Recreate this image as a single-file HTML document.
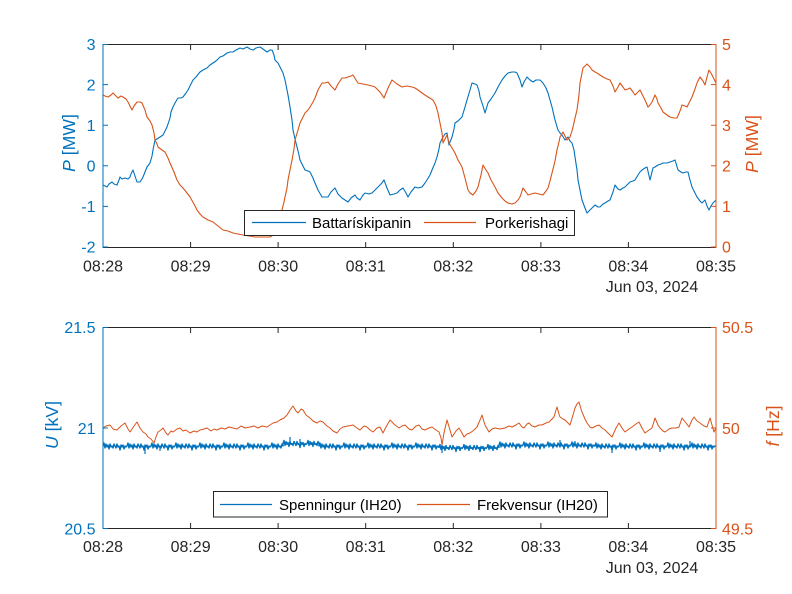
<!DOCTYPE html>
<html>
<head>
<meta charset="utf-8">
<style>
  html,body{margin:0;padding:0;background:#fff;}
  svg{display:block;}
  text{font-family:"Liberation Sans",Arial,sans-serif;}
</style>
</head>
<body>
<svg width="792" height="594" viewBox="0 0 792 594" xmlns="http://www.w3.org/2000/svg">
<rect x="0" y="0" width="792" height="594" fill="#fff"/>
<defs>
  <clipPath id="c1"><rect x="103" y="44" width="613" height="203"/></clipPath>
  <clipPath id="c2"><rect x="103" y="327" width="613" height="202"/></clipPath>
</defs>

<!-- ================= TOP AXES ================= -->
<g clip-path="url(#c1)" fill="none" stroke-width="1.1" stroke-linejoin="round">
  <polyline stroke="#0072BD" points="103,185 105,186 107,187 109,184 112,182 114,184 117,185 119,180 120,177 122,179 125,178 128,179 130,177 131,174 133,170 135,176 137,182 140,182 142,179 143,177 145,172 147,167 150,163 152,156 153,150 155,140 157,139 160,137 163,135 165,131 167,127 170,118 171,112 173,107 175,103 178,98 181,98 183,97 186,93 188,90 190,86 193,80 196,77 200,72 203,70 207,68 210,65 213,63 216,61 220,57 223,56 227,53 230,52 233,52 236,50 240,48 243,49 247,47 250,49 253,50 256,48 260,47 263,49 267,52 270,50 272,50 274,55 275,60 278,63 280,67 283,73 285,80 288,95 290,107 292,120 293,130 295,139 297,147 299,155 300,160 303,166 305,170 308,171 310,172 313,178 315,183 318,190 322,197 325,197 328,197 331,192 335,188 338,194 342,198 345,200 348,202 351,198 355,195 357,198 360,200 363,195 365,193 369,194 372,193 375,190 378,187 381,184 384,180 387,188 390,195 394,194 397,193 400,190 403,188 406,193 408,197 411,192 415,187 418,188 422,187 425,183 427,180 430,175 432,170 435,163 437,157 439,149 440,143 443,137 445,134 447,133 449,145 450,142 452,137 454,129 455,123 458,121 462,117 465,107 467,100 470,90 472,83 475,84 477,85 479,91 480,97 483,106 485,113 488,103 491,99 495,93 498,87 502,80 505,76 508,73 512,72 515,72 517,73 520,80 522,87 524,82 527,77 530,80 533,82 536,80 540,80 543,83 546,88 548,93 550,100 552,107 555,120 558,130 560,133 562,135 565,140 568,137 570,141 572,143 574,150 575,157 577,170 578,180 580,190 582,200 585,208 587,213 590,210 593,207 595,205 598,207 600,207 603,204 605,203 608,201 610,200 613,192 615,185 618,189 620,190 623,188 625,187 628,184 630,182 633,181 635,180 638,175 640,172 642,170 645,168 647,167 650,180 653,168 655,167 658,165 661,164 663,163 667,163 670,162 673,161 675,160 678,170 681,172 683,173 686,172 688,172 690,180 692,187 695,193 697,197 700,201 702,203 705,200 707,206 709,210 711,206 713,203 716,200"/>
  <polyline stroke="#D95319" points="103,95 105,96 108,97 111,95 113,93 116,96 118,98 121,96 123,97 126,99 128,102 130,106 132,110 134,106 137,102 140,102 142,103 145,110 147,117 150,121 152,125 154,133 155,140 157,144 158,147 162,150 165,152 168,158 170,163 174,172 177,180 180,185 183,188 187,193 190,197 194,204 197,210 200,214 203,217 208,220 213,222 218,226 223,230 228,231 233,233 238,234 243,235 255,237 270,237 278,232 282,210 284,202 285,197 287,188 288,180 290,170 292,160 294,149 295,140 298,130 300,123 303,117 305,113 308,110 310,107 313,102 315,98 318,90 322,83 325,83 328,82 331,86 335,90 338,84 342,78 345,78 348,77 351,76 353,75 356,80 358,83 363,84 368,85 372,86 375,87 380,92 384,98 388,88 392,80 397,84 402,87 407,86 412,87 415,88 418,90 422,93 425,95 428,97 433,100 436,106 438,113 440,123 442,133 443,143 445,139 447,135 449,143 452,148 455,153 458,160 462,167 465,178 468,190 470,193 473,195 476,191 478,187 481,175 483,165 486,170 488,173 491,180 495,187 498,193 502,198 505,201 508,203 512,204 515,203 518,200 520,197 523,188 526,192 528,195 531,194 535,193 539,194 543,195 546,191 548,188 550,181 552,173 555,161 557,150 559,142 560,137 563,132 565,136 567,140 570,137 572,131 573,127 575,118 577,110 579,95 580,83 582,73 583,68 585,66 587,64 590,67 592,70 595,72 597,73 600,75 603,77 607,79 610,80 613,86 615,92 618,87 620,83 623,87 625,90 628,89 630,88 633,92 635,95 638,92 640,90 643,96 645,100 648,107 650,105 652,102 655,95 657,99 658,103 661,108 663,112 667,115 670,117 674,118 677,118 680,111 682,105 685,106 687,107 690,101 692,97 695,89 697,83 700,77 703,81 705,85 707,77 709,70 711,73 713,77 716,83"/>
</g>

<!-- top axes frame -->
<g stroke-width="1" fill="none">
  <line x1="103" y1="44.5" x2="716" y2="44.5" stroke="#262626"/>
  <line x1="103" y1="247.5" x2="716" y2="247.5" stroke="#262626"/>
  <line x1="103" y1="44" x2="103" y2="248" stroke="#0072BD"/>
  <line x1="716" y1="44" x2="716" y2="248" stroke="#D95319"/>
  <g stroke="#262626">
    <path d="M190.6,247 v-5 M278.1,247 v-5 M365.7,247 v-5 M453.3,247 v-5 M540.9,247 v-5 M628.4,247 v-5"/>
    <path d="M190.6,45 v5 M278.1,45 v5 M365.7,45 v5 M453.3,45 v5 M540.9,45 v5 M628.4,45 v5"/>
  </g>
  <path stroke="#0072BD" d="M103,44.5 h5 M103,84.6 h5 M103,125.2 h5 M103,165.8 h5 M103,206.4 h5 M103,247 h5"/>
  <path stroke="#D95319" d="M716,44.5 h-5 M716,84.6 h-5 M716,125.2 h-5 M716,165.8 h-5 M716,206.4 h-5 M716,247 h-5"/>
</g>

<g font-size="16" fill="#0072BD" text-anchor="end">
  <text x="95.5" y="50">3</text>
  <text x="95.5" y="90.5">2</text>
  <text x="95.5" y="131">1</text>
  <text x="95.5" y="171.5">0</text>
  <text x="95.5" y="212">-1</text>
  <text x="95.5" y="252.5">-2</text>
</g>
<g font-size="16" fill="#D95319" text-anchor="start">
  <text x="722" y="50">5</text>
  <text x="722" y="90.5">4</text>
  <text x="722" y="131">3</text>
  <text x="722" y="171.5">2</text>
  <text x="722" y="212">1</text>
  <text x="722" y="252.5">0</text>
</g>
<g font-size="16" fill="#262626" text-anchor="middle">
  <text x="103" y="271.5">08:28</text>
  <text x="190.6" y="271.5">08:29</text>
  <text x="278.1" y="271.5">08:30</text>
  <text x="365.7" y="271.5">08:31</text>
  <text x="453.3" y="271.5">08:32</text>
  <text x="540.9" y="271.5">08:33</text>
  <text x="628.4" y="271.5">08:34</text>
  <text x="716" y="271.5">08:35</text>
  <text x="652" y="292">Jun 03, 2024</text>
</g>
<text font-size="17.6" fill="#0072BD" text-anchor="middle" transform="translate(75,143) rotate(-90)"><tspan font-style="italic">P</tspan> [MW]</text>
<text font-size="17.6" fill="#D95319" text-anchor="middle" transform="translate(758,144) rotate(-90)"><tspan font-style="italic">P</tspan> [MW]</text>

<rect x="244.5" y="210.5" width="330" height="25" fill="#fff" stroke="#262626" stroke-width="1"/>
<line x1="252" y1="222.5" x2="306" y2="222.5" stroke="#0072BD" stroke-width="1.2"/>
<text x="312" y="228" font-size="15" fill="#000">Battarískipanin</text>
<line x1="424" y1="222.5" x2="476" y2="222.5" stroke="#D95319" stroke-width="1.2"/>
<text x="485" y="228" font-size="15" fill="#000">Porkerishagi</text>

<!-- ================= BOTTOM AXES ================= -->
<g clip-path="url(#c2)" fill="none" stroke-linejoin="round">
  <path stroke="#0072BD" stroke-width="1.4" d="M103,446
  l1,-3 1,5 1,-4 1,3 1,-2 1,4 1,-5 1,3 1,-1 1,2 1,-4 1,2 l1,2 1,-4 1,3 1,-1 1,4 1,-5 1,2 1,-2 1,4 1,-3 1,1 1,-1
  l1,-3 1,5 1,-4 1,3 1,-2 1,4 1,-5 1,3 1,-1 1,2 1,-4 1,2 l1,2 1,-4 1,3 1,-1 1,4 1,-5 1,2 1,-2 1,4 1,-3 1,1 1,-1
  l1,-3 1,5 1,-4 1,3 1,-2 1,4 1,-5 1,3 1,-1 1,2 1,-4 1,2 l1,2 1,-4 1,3 1,-1 1,4 1,-5 1,2 1,-2 1,4 1,-3 1,1 1,-1
  l1,-3 1,5 1,-4 1,3 1,-2 1,4 1,-5 1,3 1,-1 1,2 1,-4 1,2 l1,2 1,-4 1,3 1,-1 1,4 1,-5 1,2 1,-2 1,4 1,-3 1,1 1,-1
  l1,-3 1,5 1,-4 1,3 1,-2 1,4 1,-5 1,3 1,-1 1,2 1,-4 1,2 l1,2 1,-4 1,3 1,-1 1,4 1,-5 1,2 1,-2 1,4 1,-3 1,1 1,-1
  l1,-3 1,5 1,-4 1,3 1,-2 1,4 1,-5 1,3 1,-1 1,2 1,-4 1,2 l1,2 1,-4 1,3 1,-1 1,4 1,-5 1,2 1,-2 1,4 1,-3 1,1 1,-1
  l1,-3 1,5 1,-4 1,3 1,-2 1,4 1,-5 1,3 1,-1 1,2 1,-4 1,2 l1,2 1,-4 1,3 1,-1 1,4 1,-5 1,2 1,-2 1,4 1,-3 1,1 1,-1
  l1,-3 1,5 1,-4 1,3 1,-2 1,4 1,-5 1,3 1,-1 1,2 1,-4 1,2
  l0,-2.5
  l1,-3 1,5 1,-4 1,3 1,-2 1,4 1,-5 1,3 1,-1 1,2 1,-4 1,2 l1,2 1,-4 1,3 1,-1 1,4 1,-5 1,2 1,-2 1,4 1,-3 1,1 1,-1
  l1,-3 1,5 1,-4 1,3 1,-2 1,4 1,-5 1,3 1,-1 1,2 1,-4 1,2
  l0,2.5
  l1,-3 1,5 1,-4 1,3 1,-2 1,4 1,-5 1,3 1,-1 1,2 1,-4 1,2 l1,2 1,-4 1,3 1,-1 1,4 1,-5 1,2 1,-2 1,4 1,-3 1,1 1,-1
  l1,-3 1,5 1,-4 1,3 1,-2 1,4 1,-5 1,3 1,-1 1,2 1,-4 1,2 l1,2 1,-4 1,3 1,-1 1,4 1,-5 1,2 1,-2 1,4 1,-3 1,1 1,-1
  l1,-3 1,5 1,-4 1,3 1,-2 1,4 1,-5 1,3 1,-1 1,2 1,-4 1,2 l1,2 1,-4 1,3 1,-1 1,4 1,-5 1,2 1,-2 1,4 1,-3 1,1 1,-1
  l1,-3 1,5 1,-4 1,3 1,-2 1,4 1,-5 1,3 1,-1 1,2 1,-4 1,2 l1,2 1,-4 1,3 1,-1 1,4 1,-5 1,2 1,-2 1,4 1,-3 1,1 1,-1
  l1,-3 1,5 1,-4 1,3 1,-2 1,4 1,-5 1,3 1,-1 1,2 1,-4 1,2 l1,2 1,-4 1,3 1,-1 1,4 1,-5 1,2 1,-2 1,4 1,-3 1,1 1,-1
  l0,1.5
  l1,-3 1,5 1,-4 1,3 1,-2 1,4 1,-5 1,3 1,-1 1,2 1,-4 1,2 l1,2 1,-4 1,3 1,-1 1,4 1,-5 1,2 1,-2 1,4 1,-3 1,1 1,-1
  l1,-3 1,5 1,-4 1,3 1,-2 1,4 1,-5 1,3 1,-1 1,2 1,-4 1,2 l1,2 1,-4 1,3 1,-1 1,4 1,-5 1,2 1,-2 1,4 1,-3 1,1 1,-1
  l1,-3 1,5 1,-4 1,3 1,-2 1,4 1,-5 1,3 1,-1 1,2 1,-4 1,2
  l0,-2.5
  l1,-3 1,5 1,-4 1,3 1,-2 1,4 1,-5 1,3 1,-1 1,2 1,-4 1,2 l1,2 1,-4 1,3 1,-1 1,4 1,-5 1,2 1,-2 1,4 1,-3 1,1 1,-1
  l1,-3 1,5 1,-4 1,3 1,-2 1,4 1,-5 1,3 1,-1 1,2 1,-4 1,2 l1,2 1,-4 1,3 1,-1 1,4 1,-5 1,2 1,-2 1,4 1,-3 1,1 1,-1
  l1,-3 1,5 1,-4 1,3 1,-2 1,4 1,-5 1,3 1,-1 1,2 1,-4 1,2 l1,2 1,-4 1,3 1,-1 1,4 1,-5 1,2 1,-2 1,4 1,-3 1,1 1,-1
  l1,-3 1,5 1,-4 1,3 1,-2 1,4 1,-5 1,3 1,-1 1,2 1,-4 1,2 l1,2 1,-4 1,3 1,-1 1,4 1,-5 1,2 1,-2 1,4 1,-3 1,1 1,-1
  l0,1
  l1,-3 1,5 1,-4 1,3 1,-2 1,4 1,-5 1,3 1,-1 1,2 1,-4 1,2 l1,2 1,-4 1,3 1,-1 1,4 1,-5 1,2 1,-2 1,4 1,-3 1,1 1,-1
  l1,-3 1,5 1,-4 1,3 1,-2 1,4 1,-5 1,3 1,-1 1,2 1,-4 1,2 l1,2 1,-4 1,3 1,-1 1,4 1,-5 1,2 1,-2 1,4 1,-3 1,1 1,-1
  l1,-3 1,5 1,-4 1,3 1,-2 1,4 1,-5 1,3 1,-1 1,2 1,-4 1,2 l1,2 1,-4 1,3 1,-1 1,4 1,-5 1,2 1,-2 1,4 1,-3 1,1 1,-1
  l1,-3 1,5 1,-4 1,3 1,-2 1,4 1,-5 1,3 1,-1 1,2 1,-4 1,2 l1,2 1,-4 1,3 1,-1 1,4 1,-5 1,2 1,-2 1,4 1,-3 1,1 1,-1
  l1,-3 1,5 1,-4 1,3 1,-2 1,4 1,-5 1,3 1,-1 1,2 1,-4 1,2 l1,2 1,-4 1,3 1,-1 1,4 1,-5 1,2 1,-2 1,4 1,-3 1,1 1,-1 l1,0"/>
  <path stroke="#0072BD" stroke-width="1.2" d="M145,446 v8 M160,446 v5 M290,443 v-6 M300,443 v-4 M442,447 v6 M480,447 v5 M560,445 v-5 M575,445 v-4 M612,446 v7 M660,446 v6 M690,446 v-5"/>
  <polyline stroke="#D95319" stroke-width="1" points="103,428 106,426 110,425 113,429 117,430 121,426 125,423 128,429 130,432 134,426 137,422 140,428 143,432 146,434 148,437 151,439 154,443 156,437 158,432 161,430 163,428 166,433 168,435 171,431 173,432 177,429 180,428 183,431 186,430 190,433 194,431 197,432 200,430 204,429 207,428 211,431 214,429 217,430 221,428 225,429 229,427 233,428 237,429 241,426 245,428 250,427 254,426 258,428 262,426 267,427 270,425 273,423 277,422 280,420 284,418 287,415 290,410 293,406 296,411 298,413 301,409 303,410 306,415 310,418 313,421 317,423 320,421 323,422 327,426 330,428 333,431 337,433 340,429 343,427 348,426 353,425 357,428 360,430 364,426 367,427 370,430 373,432 377,428 380,427 383,433 386,427 390,420 395,425 399,428 402,426 405,425 409,429 412,430 416,426 419,425 422,429 425,430 429,428 432,427 436,430 439,432 441,438 442,445 444,433 447,420 450,430 452,437 456,431 459,428 462,433 464,437 467,434 470,433 474,430 477,427 480,420 482,415 485,425 489,432 492,429 495,428 500,429 505,428 509,426 512,427 516,425 519,423 522,427 524,428 527,424 529,423 532,426 535,427 539,425 542,425 546,423 549,422 552,419 554,417 556,410 557,407 559,414 560,417 563,419 565,420 568,423 570,425 573,415 575,408 577,404 579,402 581,409 582,412 585,419 587,423 590,427 592,428 596,426 599,425 602,428 605,430 609,434 612,437 616,428 619,423 622,428 625,432 629,429 632,427 636,424 639,422 642,428 645,433 649,430 652,428 655,418 658,425 660,428 663,431 665,432 669,429 672,428 676,428 679,427 682,418 686,423 689,427 692,420 694,417 697,421 700,423 704,426 707,427 710,418 712,425 714,432 716,428"/>
</g>

<!-- bottom axes frame -->
<g stroke-width="1" fill="none">
  <line x1="103" y1="327.5" x2="716" y2="327.5" stroke="#262626"/>
  <line x1="103" y1="528.5" x2="716" y2="528.5" stroke="#262626"/>
  <line x1="103" y1="327" x2="103" y2="529" stroke="#0072BD"/>
  <line x1="716" y1="327" x2="716" y2="529" stroke="#D95319"/>
  <g stroke="#262626">
    <path d="M190.6,528 v-5 M278.1,528 v-5 M365.7,528 v-5 M453.3,528 v-5 M540.9,528 v-5 M628.4,528 v-5"/>
    <path d="M190.6,328 v5 M278.1,328 v5 M365.7,328 v5 M453.3,328 v5 M540.9,328 v5 M628.4,328 v5"/>
  </g>
  <path stroke="#0072BD" d="M103,327.5 h5 M103,428 h5 M103,528.5 h5"/>
  <path stroke="#D95319" d="M716,327.5 h-5 M716,428 h-5 M716,528.5 h-5"/>
</g>

<g font-size="16" fill="#0072BD" text-anchor="end">
  <text x="95.5" y="333">21.5</text>
  <text x="95.5" y="434">21</text>
  <text x="95.5" y="534.5">20.5</text>
</g>
<g font-size="16" fill="#D95319" text-anchor="start">
  <text x="722" y="333">50.5</text>
  <text x="722" y="434">50</text>
  <text x="722" y="534.5">49.5</text>
</g>
<g font-size="16" fill="#262626" text-anchor="middle">
  <text x="103" y="552">08:28</text>
  <text x="190.6" y="552">08:29</text>
  <text x="278.1" y="552">08:30</text>
  <text x="365.7" y="552">08:31</text>
  <text x="453.3" y="552">08:32</text>
  <text x="540.9" y="552">08:33</text>
  <text x="628.4" y="552">08:34</text>
  <text x="716" y="552">08:35</text>
  <text x="652" y="573">Jun 03, 2024</text>
</g>
<text font-size="17.6" fill="#0072BD" text-anchor="middle" transform="translate(58,425) rotate(-90)"><tspan font-style="italic">U</tspan> [kV]</text>
<text font-size="17.6" fill="#D95319" text-anchor="middle" transform="translate(779,426) rotate(-90)"><tspan font-style="italic">f</tspan> [Hz]</text>

<rect x="213.5" y="491.5" width="394" height="25.5" fill="#fff" stroke="#262626" stroke-width="1"/>
<line x1="220" y1="504.5" x2="272" y2="504.5" stroke="#0072BD" stroke-width="1.2"/>
<text x="279" y="510" font-size="15" fill="#000">Spenningur (IH20)</text>
<line x1="417" y1="504.5" x2="470" y2="504.5" stroke="#D95319" stroke-width="1.2"/>
<text x="477" y="510" font-size="15" fill="#000">Frekvensur (IH20)</text>
</svg>
</body>
</html>
